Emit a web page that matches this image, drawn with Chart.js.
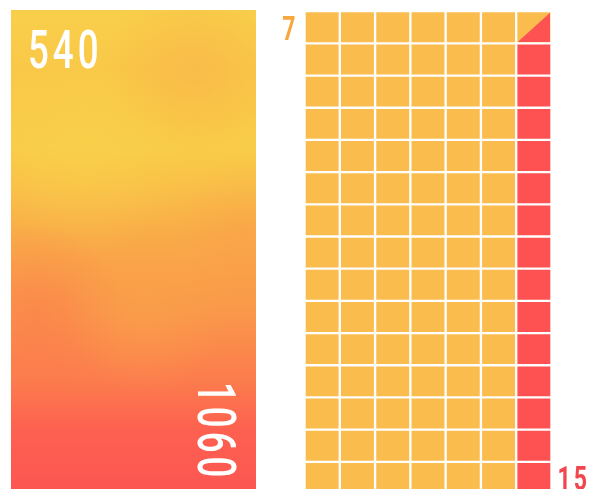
<!DOCTYPE html>
<html>
<head>
<meta charset="utf-8">
<script src="https://cdn.jsdelivr.net/npm/chart.js@4"></script>
<style>
    html, body { margin: 0; padding: 0; background: #fff; width: 592px; height: 489px; overflow: hidden; }
    #barChart { position: absolute; left: 0; top: 0; }
    #gridChart { position: absolute; left: 270px; top: 0; }
</style>
</head>
<body>
<canvas id="barChart" width="270" height="500"></canvas>
<canvas id="gridChart" width="322" height="494"></canvas>
<script>
// 左侧大柱的数据
const barCategories = ['total'];
const barValues = [1060];
const barTopLabel = '540';
const barBottomLabel = '1060';

// 右侧方格的数据
const gridColumns = ['1', '2', '3', '4', '5', '6', '7'];
const gridRows = ['1', '2', '3', '4', '5', '6', '7', '8', '9', '10', '11', '12', '13', '14', '15'];
const cellValues = [1, 1, 1, 1, 1, 1, 1];
const redColumn = 6;
const gridTopLabel = '7';
const gridBottomLabel = '15';

const ORANGE = '#fbbc4e';
const RED = '#fe5252';
const FONT = 'Roboto, "Liberation Sans", sans-serif';
const SQUEEZE = 0.68;

// 窄体文字：横向压缩，逐字加间距
function narrowText(ctx, text, x, y, size, weight, align, tracking) {
    ctx.save();
    ctx.font = weight + ' ' + size + 'px ' + FONT;
    ctx.textBaseline = 'alphabetic';
    ctx.textAlign = 'left';
    const chars = text.split('');
    const widths = chars.map(ch => ctx.measureText(ch).width * SQUEEZE);
    const total = widths.reduce((a, b) => a + b, 0) + tracking * (chars.length - 1);
    let cx = align === 'right' ? x - total : x;
    chars.forEach((ch, i) => {
        ctx.save();
        ctx.translate(cx, y);
        ctx.scale(SQUEEZE, 1);
        ctx.fillText(ch, 0, 0);
        ctx.restore();
        cx += widths[i] + tracking;
    });
    ctx.restore();
}

// 左柱渐变
function barGradient(context) {
    const chart = context.chart;
    const area = chart.chartArea;
    if (!area) return ORANGE;
    const g = chart.ctx.createLinearGradient(0, area.top, 0, area.bottom);
    g.addColorStop(0.00, '#f9cf4a');
    g.addColorStop(0.12, '#f9c848');
    g.addColorStop(0.28, '#f9cc48');
    g.addColorStop(0.36, '#f9c048');
    g.addColorStop(0.46, '#f9ab48');
    g.addColorStop(0.62, '#fa974a');
    g.addColorStop(0.76, '#fc7b4d');
    g.addColorStop(0.86, '#fd6050');
    g.addColorStop(1.00, '#fc5552');
    return g;
}

// 柱内云状色块 + 文字
const barDecor = {
    id: 'barDecor',
    afterDatasetsDraw(chart) {
        const ctx = chart.ctx;
        const bar = chart.getDatasetMeta(0).data[0];
        const left = bar.x - bar.width / 2;
        const right = bar.x + bar.width / 2;
        const top = bar.y;
        const h = bar.base - bar.y;
        ctx.save();
        ctx.beginPath();
        ctx.rect(left, top, right - left, h);
        ctx.clip();
        const blobs = [
            [0.75, 0.12, 90, 'rgba(248,172,72,0.45)'],
            [0.30, 0.30, 100, 'rgba(250,212,76,0.40)'],
            [0.10, 0.62, 90, 'rgba(252,112,78,0.40)'],
            [0.55, 0.62, 80, 'rgba(250,165,75,0.40)'],
            [0.95, 0.45, 70, 'rgba(250,150,72,0.30)']
        ];
        blobs.forEach(([fx, fy, r, c]) => {
            const cx = left + fx * (right - left);
            const cy = top + fy * h;
            const rg = ctx.createRadialGradient(cx, cy, 0, cx, cy, r);
            rg.addColorStop(0, c);
            rg.addColorStop(1, c.replace(/[\d.]+\)$/, '0)'));
            ctx.fillStyle = rg;
            ctx.fillRect(cx - r, cy - r, r * 2, r * 2);
        });
        ctx.restore();

        ctx.save();
        ctx.fillStyle = '#ffffff';
        narrowText(ctx, barTopLabel, left + 17, top + 58, 54, 500, 'left', 4);
        ctx.translate(right - 58, top + 372);
        ctx.rotate(Math.PI / 2);
        narrowText(ctx, barBottomLabel, 0, 0, 54, 500, 'left', 4);
        ctx.restore();
    }
};

// 右上角斜分的格子 + 角标
const gridDecor = {
    id: 'gridDecor',
    afterDatasetsDraw(chart) {
        const ctx = chart.ctx;
        const bw = 1.5;
        const cell = chart.getDatasetMeta(gridRows.length - 1).data[redColumn];
        const l = cell.x - cell.width / 2 + bw;
        const r = cell.x + cell.width / 2 - bw;
        const t = cell.y + bw;
        const b = cell.base - bw;
        ctx.save();
        ctx.fillStyle = RED;
        ctx.beginPath();
        ctx.moveTo(r, t);
        ctx.lineTo(r, b);
        ctx.lineTo(l, b);
        ctx.closePath();
        ctx.fill();

        const area = chart.chartArea;
        ctx.fillStyle = '#f7a83c';
        narrowText(ctx, gridTopLabel, area.left - 9, area.top + 29, 34, 'bold', 'right', 2);
        ctx.fillStyle = '#f2464f';
        narrowText(ctx, gridBottomLabel, area.right + 6, area.bottom - 4, 34, 'bold', 'left', 3);
        ctx.restore();
    }
};

new Chart(document.getElementById('barChart'), {
    type: 'bar',
    data: {
        labels: barCategories,
        datasets: [{
            data: barValues,
            backgroundColor: barGradient,
            borderWidth: 0,
            barPercentage: 1,
            categoryPercentage: 1
        }]
    },
    options: {
        responsive: false,
        animation: false,
        layout: { padding: { left: 11, right: 14, top: 10, bottom: 0 } },
        plugins: { legend: { display: false }, tooltip: { enabled: false } },
        scales: {
            x: { display: false },
            y: { display: false, min: 0, max: barValues[0] }
        }
    },
    plugins: [barDecor]
});

const gridDatasets = gridRows.map((row, r) => ({
    label: row,
    data: cellValues,
    backgroundColor: gridColumns.map((c, i) => (i === redColumn && r < gridRows.length - 1) ? RED : ORANGE),
    borderColor: '#ffffff',
    borderWidth: 1.5,
    borderSkipped: false,
    barPercentage: 1,
    categoryPercentage: 1
}));

new Chart(document.getElementById('gridChart'), {
    type: 'bar',
    data: { labels: gridColumns, datasets: gridDatasets },
    options: {
        responsive: false,
        animation: false,
        layout: { padding: { left: 34.5, right: 40.5, top: 11.2, bottom: 0 } },
        plugins: { legend: { display: false }, tooltip: { enabled: false } },
        scales: {
            x: { display: false, stacked: true },
            y: { display: false, stacked: true, min: 0, max: gridRows.length }
        }
    },
    plugins: [gridDecor]
});
</script>
</body>
</html>
